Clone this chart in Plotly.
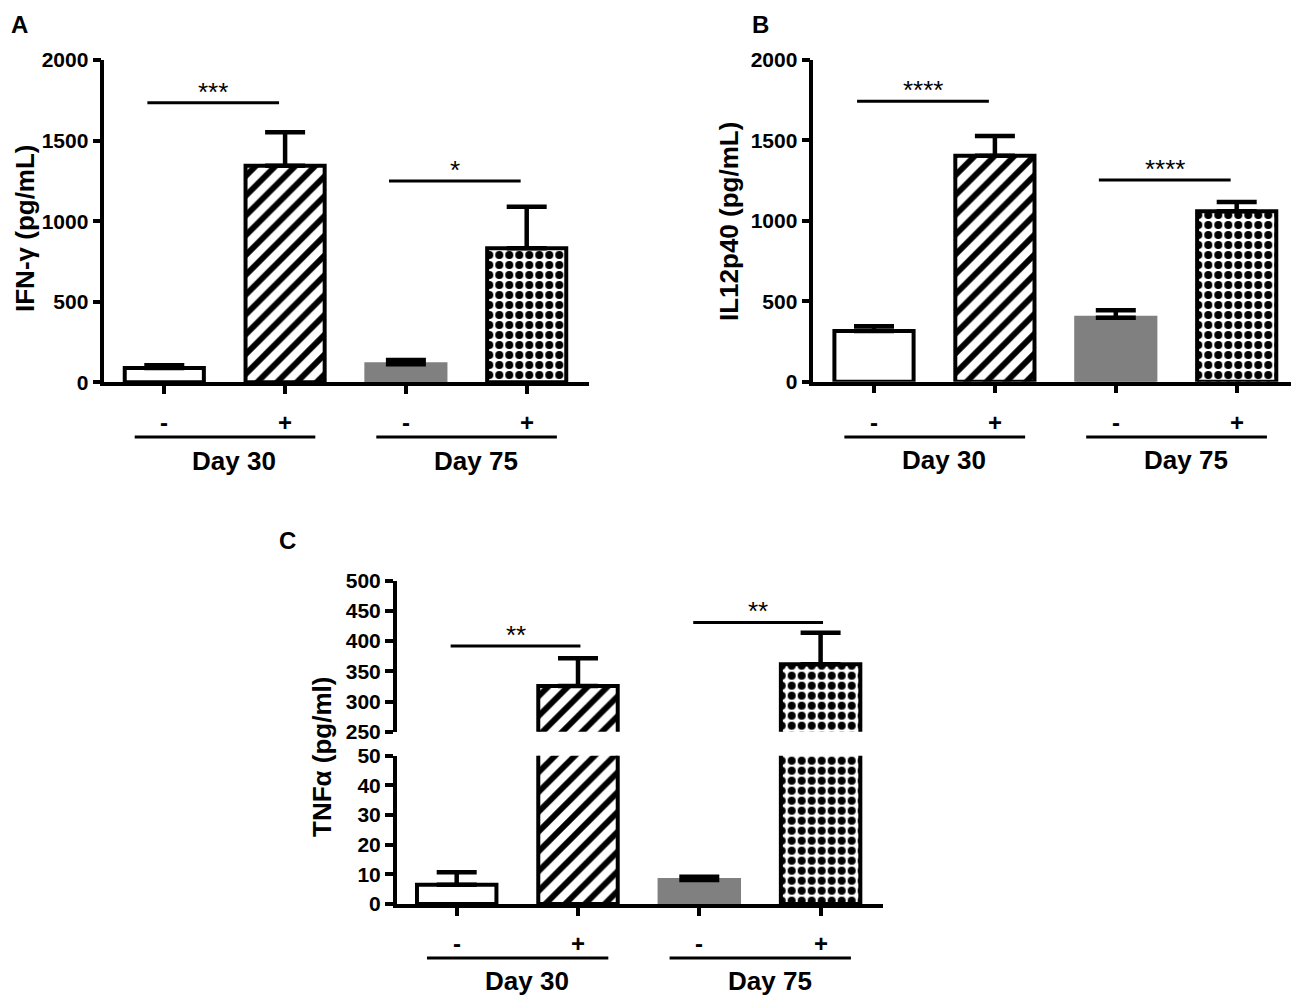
import plotly.graph_objects as go

# The page has an 8px body margin: page pixel = figure pixel + 8
OFF = 8
W, H = 1299 - OFF, 998 - OFF
FONT = "Arial, 'Liberation Sans', sans-serif"

# ---------------- data ----------------
categories = ["-", "+", "-", "+"]
groups = ["Day 30", "Day 75"]

ifng = [88, 1344, 112, 832]
ifng_err = [18, 207, 26, 258]
ifng_sig = ["***", "*"]
ifng_sig_y = [1735, 1249]
ifng_ticks = [0, 500, 1000, 1500, 2000]

il12 = [315, 1405, 398, 1060]
il12_err = [29, 122, 46, 57]
il12_sig = ["****", "****"]
il12_sig_y = [1744, 1254]
il12_ticks = [0, 500, 1000, 1500, 2000]

tnf = [6.5, 325.7, 8.1, 361.6]
tnf_err = [4.2, 45.8, 1.1, 52.4]
tnf_sig = ["**", "**"]
tnf_sig_y = [392, 431]
tnf_ticks_low = [0, 10, 20, 30, 40, 50]
tnf_ticks_high = [250, 300, 350, 400, 450, 500]

titles = ["IFN-γ (pg/mL)", "IL12p40 (pg/mL)", "TNFα (pg/ml)"]
panel_letters = ["A", "B", "C"]

xs = list(range(len(categories)))


def px(x):
    return (x - OFF) / W


def py(y):
    return 1 - (y - OFF) / H


# ---------------- styles ----------------
fill = ["white", "white", "#808080", "white"]
line_col = ["black", "black", "#808080", "black"]
pat_shape = ["", "/", "", "."]
pat_size = [8, 14, 8, 10]
pat_sol = [0.3, 0.42, 0.3, 0.5]
BAR_W = 0.655


def bar_traces(y, err, xa, ya):
    out = []
    for i in range(len(y)):
        out.append(go.Bar(
            x=[xs[i]], y=[y[i]], xaxis=xa, yaxis=ya, width=BAR_W,
            marker=dict(color=fill[i], line=dict(color=line_col[i], width=4),
                        pattern=dict(shape=pat_shape[i], fgcolor="black", bgcolor=fill[i],
                                     size=pat_size[i], solidity=pat_sol[i], fillmode="replace")),
            error_y=dict(type="data", array=[err[i]], arrayminus=[0],
                         symmetric=False, color="black", thickness=4.5, width=20),
            showlegend=False, hoverinfo="skip"))
    return out


fig = go.Figure()
for tr in (bar_traces(ifng, ifng_err, "x", "y") + bar_traces(il12, il12_err, "x2", "y2")
           + bar_traces(tnf, tnf_err, "x3", "y3") + bar_traces(tnf, tnf_err, "x3", "y4")):
    fig.add_trace(tr)

tickfont = dict(family=FONT, size=21, color="black", weight="bold")
axc = dict(showgrid=False, zeroline=False, showline=True, linecolor="black",
           linewidth=3.5, ticks="outside", ticklen=8, tickwidth=3.5,
           tickcolor="black", fixedrange=True)

# panel geometry (page pixels): y-axis x, x-axis end, first tick x, tick spacing
pA = dict(x0=104.3, x1=589.3, t0=164.3, s=120.8, ybot=382.3, ytop=60.0)
pB = dict(x0=813.3, x1=1299.0, t0=874.0, s=120.9, ybot=381.7, ytop=60.0)
pC = dict(x0=396.7, x1=882.7, t0=456.7, s=121.3)


def xrange_of(p):
    return [-(p["t0"] - p["x0"]) / p["s"], 3 + (p["x1"] - (p["t0"] + 3 * p["s"])) / p["s"]]


fig.update_layout(
    barmode="overlay",
    xaxis=dict(axc, domain=[px(pA["x0"]), px(pA["x1"])], range=xrange_of(pA),
               tickvals=xs, showticklabels=False, anchor="y"),
    yaxis=dict(axc, domain=[py(pA["ybot"]), py(pA["ytop"])], range=[0, 2000],
               tickvals=ifng_ticks, tickfont=tickfont, anchor="x"),
    xaxis2=dict(axc, domain=[px(pB["x0"]), min(1.0, px(pB["x1"]))], range=xrange_of(pB),
                tickvals=xs, showticklabels=False, anchor="y2"),
    yaxis2=dict(axc, domain=[py(pB["ybot"]), py(pB["ytop"])], range=[0, 2000],
                tickvals=il12_ticks, tickfont=tickfont, anchor="x2"),
    xaxis3=dict(axc, domain=[px(pC["x0"]), px(pC["x1"])], range=xrange_of(pC),
                tickvals=xs, showticklabels=False, anchor="y3"),
    yaxis3=dict(axc, domain=[py(904.0), py(755.7)], range=[0, 50],
                tickvals=tnf_ticks_low, tickfont=tickfont, anchor="x3"),
    yaxis4=dict(axc, domain=[py(731.7), py(580.7)], range=[250, 500],
                tickvals=tnf_ticks_high, tickfont=tickfont, anchor="x3"),
)

annotations = []
shapes = []

# panel letters (top-anchored so they stay inside the page)
for letter, (lx, ly) in zip(panel_letters, [(9, 9), (750, 9), (277, 525)]):
    annotations.append(dict(text=letter, x=px(lx), y=py(ly), xref="paper", yref="paper",
                            xanchor="left", yanchor="top", showarrow=False,
                            font=dict(family=FONT, size=24, color="black", weight="bold")))

# y titles
for t, (tx, ty) in zip(titles, [(25, 228), (729, 222), (322, 757)]):
    annotations.append(dict(text=t, x=px(tx), y=py(ty), xref="paper", yref="paper",
                            xanchor="center", yanchor="middle", textangle=-90, showarrow=False,
                            font=dict(family=FONT, size=26, color="black", weight="bold")))

# category labels, group lines, group labels
for xa, ycat, yline, yday in [("x", 423, 437, 461), ("x2", 423, 437, 460), ("x3", 943, 958, 981)]:
    for i, c in enumerate(categories):
        annotations.append(dict(text=c, x=xs[i], y=py(ycat), xref=xa, yref="paper",
                                xanchor="center", yanchor="middle", showarrow=False,
                                font=dict(family=FONT, size=24, color="black", weight="bold")))
    for g, name in enumerate(groups):
        shapes.append(dict(type="line", xref=xa, yref="paper",
                           x0=xs[2 * g] - 0.245, x1=xs[2 * g + 1] + 0.25,
                           y0=py(yline), y1=py(yline), line=dict(color="black", width=3)))
        annotations.append(dict(text=name, x=(xs[2 * g] + xs[2 * g + 1]) / 2 + 0.08, y=py(yday),
                                xref=xa, yref="paper", xanchor="center", yanchor="middle",
                                showarrow=False,
                                font=dict(family=FONT, size=26, color="black", weight="bold")))

# significance lines
for xa, ya, labs, ys, a, b in [("x", "y", ifng_sig, ifng_sig_y, -0.14, -0.05),
                               ("x2", "y2", il12_sig, il12_sig_y, -0.14, -0.05),
                               ("x3", "y4", tnf_sig, tnf_sig_y, -0.05, 0.02)]:
    for g, (lab, yv) in enumerate(zip(labs, ys)):
        xa0 = xs[2 * g] + a
        xa1 = xs[2 * g + 1] + b
        shapes.append(dict(type="line", xref=xa, yref=ya, x0=xa0, x1=xa1, y0=yv, y1=yv,
                           line=dict(color="black", width=3)))
        annotations.append(dict(text=lab, x=(xa0 + xa1) / 2, y=yv, xref=xa, yref=ya,
                                xanchor="center", yanchor="middle", yshift=11, showarrow=False,
                                font=dict(family=FONT, size=26, color="black")))

fig.update_layout(
    width=W, height=H, margin=dict(l=0, r=0, t=0, b=0),
    paper_bgcolor="white", plot_bgcolor="white", template="none",
    annotations=annotations, shapes=shapes,
    font=dict(family=FONT, color="black"),
)

fig.write_html("out.html")
